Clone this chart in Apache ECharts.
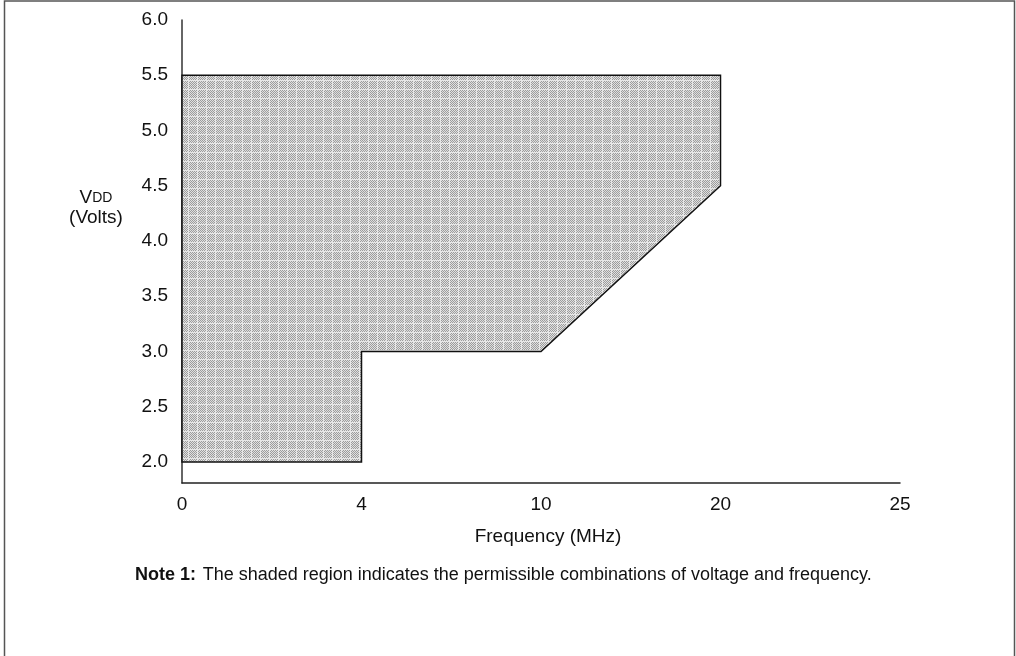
<!DOCTYPE html>
<html>
<head>
<meta charset="utf-8">
<script src="https://cdn.jsdelivr.net/npm/echarts@6/dist/echarts.min.js"></script>
<style>
html,body{margin:0;padding:0;background:#fff;}
#chart{width:1016px;height:656px;}
</style>
</head>
<body>
<div id="chart"></div>
<script>
// Frequency tick labels (MHz) - the axis in the original is drawn not to scale
const freqTicks = ['0', '4', '10', '20', '25'];
// Voltage tick labels (Volts)
const voltTicks = [2.0, 2.5, 3.0, 3.5, 4.0, 4.5, 5.0, 5.5, 6.0];
// Operating region boundary (vertices, in order)
const regionFreq = [0, 4, 4, 10, 20, 20, 0];
const regionVolt = [2.0, 2.0, 3.0, 3.0, 4.5, 5.5, 5.5];

const FONT = '"Liberation Sans", Arial, Helvetica, sans-serif';

// shading pattern (fine dot screen)
const pc = document.createElement('canvas');
pc.width = 9; pc.height = 9;
const pctx = pc.getContext('2d');
for (let i = 0; i < 9; i++) {
  for (let j = 0; j < 9; j++) {
    let c;
    if (i === 8 || j === 8) c = '#e6e6e6';
    else c = ((i + j) % 2) ? '#9c9c9c' : '#e0e0e0';
    pctx.fillStyle = c;
    pctx.fillRect(i, j, 1, 1);
  }
}

const chart = echarts.init(document.getElementById('chart'), null, {renderer: 'canvas'});

const regionData = regionFreq.map((f, i) => [freqTicks.indexOf(String(f)), regionVolt[i]]);

chart.setOption({
  animation: false,
  backgroundColor: '#fff',
  grid: {left: 182, right: 116, top: 20, bottom: 173, containLabel: false},
  xAxis: {
    type: 'category',
    data: freqTicks,
    boundaryGap: false,
    axisLine: {show: true, lineStyle: {color: '#222', width: 1.5}},
    axisTick: {show: false},
    splitLine: {show: false},
    axisLabel: {color: '#111', fontSize: 19, fontFamily: FONT, margin: 12},
    name: 'Frequency (MHz)',
    nameLocation: 'middle',
    nameGap: 44,
    nameTextStyle: {color: '#111', fontSize: 19, fontFamily: FONT, padding: [0, 0, 0, 14]}
  },
  yAxis: {
    type: 'value',
    min: 1.81,
    max: 6.0,
    axisLine: {show: true, lineStyle: {color: '#333', width: 1.5}},
    axisTick: {show: false},
    splitLine: {show: false},
    axisLabel: {
      color: '#111', fontSize: 19, fontFamily: FONT, margin: 14,
      customValues: voltTicks,
      formatter: v => Number(v).toFixed(1)
    }
  },
  series: [{
    type: 'custom',
    coordinateSystem: 'cartesian2d',
    data: regionData,
    encode: {x: 0, y: 1},
    renderItem: function (params, api) {
      if (params.dataIndex !== 0) return null;
      const pts = regionData.map(d => api.coord(d));
      return {
        type: 'polygon',
        shape: {points: pts},
        style: {
          fill: {image: pc, repeat: 'repeat'},
          stroke: '#111',
          lineWidth: 1.5
        }
      };
    }
  }],
  graphic: [
    {
      type: 'rect', silent: true, z: -1,
      shape: {x: 4.5, y: 1, width: 1010, height: 680},
      style: {fill: 'none', stroke: '#555', lineWidth: 1.5}
    },
    {
      type: 'text', x: 96, y: 188,
      style: {
        text: '{v|V}{d|DD}\n{p|(Volts)}',
        align: 'center', verticalAlign: 'top',
        rich: {
          v: {fontSize: 19, fontFamily: FONT, fill: '#111', lineHeight: 20},
          d: {fontSize: 14, fontFamily: FONT, fill: '#111', lineHeight: 20},
          p: {fontSize: 19, fontFamily: FONT, fill: '#111', lineHeight: 20}
        }
      }
    },
    {
      type: 'text', x: 135, y: 575,
      style: {
        text: '{b|Note 1:}  {n|The shaded region indicates the permissible combinations of voltage and frequency.}',
        verticalAlign: 'middle',
        rich: {
          b: {fontSize: 18, fontWeight: 'bold', fontFamily: FONT, fill: '#111'},
          n: {fontSize: 18, fontFamily: FONT, fill: '#111'}
        }
      }
    }
  ]
});
</script>
</body>
</html>
